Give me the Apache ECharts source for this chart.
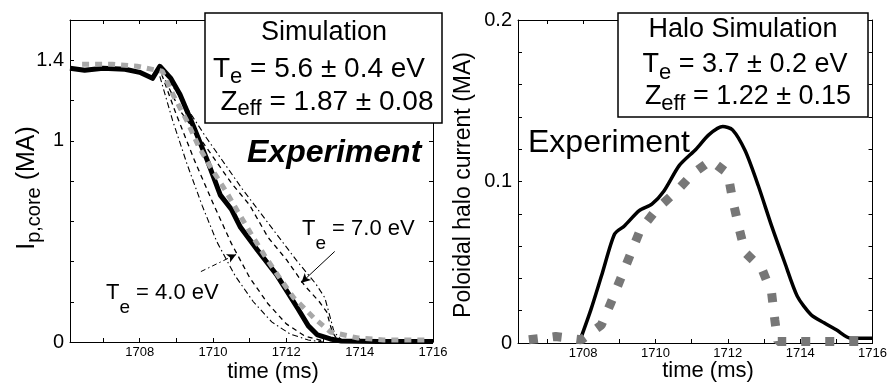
<!DOCTYPE html>
<html>
<head>
<meta charset="utf-8">
<script src="https://cdn.jsdelivr.net/npm/echarts@6/dist/echarts.min.js"></script>
<style>
  html, body { margin: 0; padding: 0; background: #fff; }
  #chart { width: 890px; height: 383px; }
</style>
</head>
<body>
<div id="chart"></div>
<script>
;(function () {
  // core current panel (left), time in ms, current in MA
  const coreExperiment = [
    [1706.1, 1.36], [1706.5, 1.35], [1707.0, 1.36], [1707.6, 1.355], [1708.0, 1.34],
    [1708.35, 1.31], [1708.55, 1.37], [1708.85, 1.31], [1709.1, 1.23], [1709.45, 1.08],
    [1709.85, 0.9], [1710.2, 0.73], [1710.5, 0.66], [1710.75, 0.57], [1711.2, 0.46],
    [1711.75, 0.33], [1712.3, 0.17], [1712.6, 0.08], [1712.85, 0.035], [1713.2, 0.015],
    [1713.5, 0.005], [1714.5, 0.003], [1716, 0.003],
  ]
  const coreSimulation = [
    [1706.43, 1.38], [1707.25, 1.38], [1707.93, 1.37], [1708.62, 1.345], [1708.92, 1.225],
    [1709.3, 1.095], [1709.6, 0.975], [1709.93, 0.87], [1710.35, 0.75], [1710.67, 0.65],
    [1711.08, 0.525], [1711.44, 0.42], [1711.85, 0.31], [1712.2, 0.22], [1712.75, 0.12],
    [1713.2, 0.05], [1713.95, 0.02], [1714.65, 0.01], [1715.85, 0.01],
  ]
  const coreTe4Dashed = [
    [1708.6, 1.33], [1709.0, 1.13], [1709.5, 0.9], [1710.0, 0.69], [1710.5, 0.49],
    [1711.0, 0.32], [1711.5, 0.19], [1712.0, 0.09], [1712.5, 0.03], [1713.0, 0.005],
  ]
  const coreTe4DashDot = [
    [1708.55, 1.32], [1708.9, 1.1], [1709.3, 0.88], [1709.7, 0.68], [1710.1, 0.5],
    [1710.6, 0.33], [1711.1, 0.2], [1711.6, 0.1], [1712.1, 0.04], [1712.6, 0.01], [1713.0, 0],
  ]
  const coreTe7Dashed = [
    [1708.7, 1.3], [1709.1, 1.15], [1709.5, 1.05], [1710.0, 0.92], [1710.5, 0.79],
    [1711.0, 0.68], [1711.5, 0.52], [1712.0, 0.41], [1712.5, 0.28], [1712.9, 0.2],
    [1713.1, 0.15], [1713.25, 0.05], [1713.4, 0.01], [1714.0, 0],
  ]
  const coreTe7DashDot = [
    [1708.8, 1.3], [1709.3, 1.16], [1709.8, 1.02], [1710.3, 0.89], [1710.8, 0.76],
    [1711.3, 0.64], [1711.8, 0.52], [1712.3, 0.4], [1712.8, 0.29], [1713.05, 0.22],
    [1713.2, 0.12], [1713.3, 0.05], [1713.5, 0.01], [1714.2, 0],
  ]
  const arrowTe7 = [[1713.32, 0.45], [1712.41, 0.295]]
  const arrowTe4 = [[1709.67, 0.35], [1710.63, 0.435]]

  // halo current panel (right)
  const haloExperiment = [
    [1707.92, 0.002], [1708.22, 0.021], [1708.54, 0.044], [1708.87, 0.0675], [1709.14, 0.0725],
    [1709.55, 0.082], [1709.9, 0.086], [1710.23, 0.094], [1710.66, 0.11], [1711.12, 0.12],
    [1711.48, 0.129], [1711.86, 0.134], [1712.13, 0.132], [1712.48, 0.119], [1712.84, 0.0975],
    [1713.21, 0.0725], [1713.57, 0.05], [1713.92, 0.029], [1714.3, 0.0175], [1714.66, 0.0125],
    [1715.01, 0.008], [1715.39, 0.003], [1716.0, 0.003],
  ]
  const haloSimulation = [
    [1706.5, 0.002], [1707.24, 0.004], [1707.95, 0.002], [1708.5, 0.011], [1708.77, 0.025],
    [1709.04, 0.04], [1709.31, 0.055], [1709.58, 0.07], [1710.04, 0.083], [1710.58, 0.094],
    [1711.04, 0.105], [1711.53, 0.113], [1712.0, 0.105], [1712.13, 0.089], [1712.3, 0.072],
    [1712.48, 0.056], [1712.94, 0.046], [1713.21, 0.031], [1713.3, 0.014], [1713.38, 0.001],
    [1714.1, 0.001], [1714.85, 0.001], [1715.9, 0.001],
  ]

  const timeTicks = [1707, 1708, 1709, 1710, 1711, 1712, 1713, 1714, 1715, 1716]
  const timeLabels = [1708, 1710, 1712, 1714, 1716]
  const coreLabels = [0, 1, 1.4]
  const haloLabels = [0, 0.1, 0.2]

  const FONT = 'Liberation Sans, Arial, Helvetica, sans-serif'
  const black = '#000'

  function xAxes(gridIndex, min) {
    const base = {
      gridIndex,
      type: 'value',
      min,
      max: 1716,
      axisLine: { onZero: false, lineStyle: { color: black, width: 1 } },
      axisTick: { inside: true, length: 4, customValues: timeTicks, lineStyle: { color: black } },
      splitLine: { show: false },
    }
    return [
      {
        ...base,
        position: 'bottom',
        axisLabel: {
          customValues: timeLabels,
          fontSize: 13,
          color: black,
          fontFamily: FONT,
          margin: 4,
          formatter: (v) => String(Math.round(v)),
        },
      },
      { ...base, position: 'top', axisLabel: { show: false } },
    ]
  }

  function yAxes(gridIndex, max, interval, labels, digits) {
    const base = {
      gridIndex,
      type: 'value',
      min: 0,
      max,
      interval,
      axisLine: { onZero: false, lineStyle: { color: black, width: 1 } },
      axisTick: { inside: true, length: 4, lineStyle: { color: black } },
      splitLine: { show: false },
    }
    const f = Math.pow(10, digits)
    return [
      {
        ...base,
        position: 'left',
        axisLabel: {
          fontSize: 20,
          color: black,
          fontFamily: FONT,
          margin: 6,
          formatter: (v) => {
            const r = Math.round(v * f) / f
            return labels.includes(r) ? String(r) : ''
          },
        },
      },
      { ...base, position: 'right', axisLabel: { show: false } },
    ]
  }

  function line(data, xi, yi, style, z) {
    return {
      type: 'line',
      xAxisIndex: xi,
      yAxisIndex: yi,
      data,
      showSymbol: false,
      symbol: 'none',
      lineStyle: style,
      z: z || 2,
      silent: true,
    }
  }

  function arrow(pts, type) {
    return {
      type: 'line',
      xAxisIndex: 0,
      yAxisIndex: 0,
      data: [],
      markLine: {
        silent: true,
        animation: false,
        symbol: ['none', 'arrow'],
        symbolSize: [7, 9],
        label: { show: false },
        lineStyle: { color: black, width: 1, type },
        data: [[{ coord: pts[0] }, { coord: pts[1] }]],
      },
    }
  }

  const sub = (size, shift) => ({ fontSize: size, fontFamily: FONT, fill: black, padding: [shift * 2, 0, 0, 0] })
  const main = (size) => ({ fontSize: size, fontFamily: FONT, fill: black })

  // rich text label, centred unless told otherwise
  function rich(x, y, str, styles, extra) {
    const el = {
      type: 'text',
      x,
      y,
      z: 110,
      style: { text: str, rich: styles, align: 'center', verticalAlign: 'middle', fill: black, fontFamily: FONT },
    }
    if (extra) {
      if (extra.align) el.style.align = extra.align
      if (extra.rotation) el.rotation = extra.rotation
    }
    return el
  }

  function plain(x, y, str, size, extra) {
    return {
      type: 'text',
      x,
      y,
      z: 110,
      rotation: (extra && extra.rotation) || 0,
      style: Object.assign(
        { text: str, align: 'center', verticalAlign: 'middle', fontSize: size, fontFamily: FONT, fill: black },
        (extra && extra.style) || {}
      ),
    }
  }

  const chart = echarts.init(document.getElementById('chart'), null, { renderer: 'canvas' })

  chart.setOption({
    animation: false,
    backgroundColor: '#fff',
    grid: [
      { left: 70, top: 20, width: 363, height: 322 },
      { left: 518, top: 20, width: 362, height: 323 },
    ],
    xAxis: [...xAxes(0, 1706.1), ...xAxes(1, 1706.2)],
    yAxis: [...yAxes(0, 1.6, 0.2, coreLabels, 1), ...yAxes(1, 0.2, 0.02, haloLabels, 2)],
    series: [
      line(coreTe4DashDot, 0, 0, { color: black, width: 1.1, type: [6, 3, 1.5, 3] }),
      line(coreTe4Dashed, 0, 0, { color: black, width: 1.3, type: [5, 4] }),
      line(coreTe7Dashed, 0, 0, { color: black, width: 1.3, type: [5, 4] }),
      line(coreTe7DashDot, 0, 0, { color: black, width: 1.1, type: [6, 3, 1.5, 3] }),
      line(coreExperiment, 0, 0, { color: black, width: 5, join: 'round' }, 3),
      line(coreSimulation, 0, 0, { color: '#a8a8a8', width: 5, type: [7, 6], cap: 'butt' }, 4),
      arrow(arrowTe7, 'solid'),
      arrow(arrowTe4, [5, 3, 1.5, 3]),
      {
        ...line(haloExperiment, 2, 2, { color: black, width: 3.5, join: 'round' }, 3),
        smooth: 0.25,
      },
      line(haloSimulation, 2, 2, { color: '#777', width: 9, type: [9, 15], cap: 'butt' }, 4),
    ],
    graphic: [
      // left legend box
      {
        type: 'rect',
        z: 100,
        shape: { x: 205, y: 13, width: 237, height: 110 },
        style: { fill: '#fff', stroke: black, lineWidth: 1.5 },
      },
      plain(324, 33, 'Simulation', 27),
      rich(319, 69, '{a|T}{s|e}{a| = 5.6 ± 0.4 eV}', { a: main(28), s: sub(22, 8) }),
      rich(327, 102, '{a|Z}{s|eff}{a| = 1.87 ± 0.08}', { a: main(28), s: sub(22, 7) }),
      // right legend box
      {
        type: 'rect',
        z: 100,
        shape: { x: 618, y: 13, width: 250, height: 104 },
        style: { fill: '#fff', stroke: black, lineWidth: 1.5 },
      },
      plain(743, 30, 'Halo Simulation', 27),
      rich(745, 65, '{a|T}{s|e}{a| = 3.7 ± 0.2 eV}', { a: main(27), s: sub(22, 8) }),
      rich(748, 97, '{a|Z}{s|eff}{a| = 1.22 ± 0.15}', { a: main(27), s: sub(22, 7) }),
      // experiment labels
      plain(247, 153, 'Experiment', 32, { style: { align: 'left', fontWeight: 'bold', fontStyle: 'italic' } }),
      plain(528, 143, 'Experiment', 32, { style: { align: 'left' } }),
      // temperature annotations
      rich(302, 229, '{a|T}{s|e}{a| = 7.0 eV}', { a: main(22), s: sub(19, 15) }, { align: 'left' }),
      rich(106, 293, '{a|T}{s|e}{a| = 4.0 eV}', { a: main(22), s: sub(19, 15) }, { align: 'left' }),
      // axis titles
      plain(273, 372, 'time (ms)', 22),
      plain(708, 371, 'time (ms)', 22),
      rich(27, 188, '{a|I}{s|p,core}{a| (MA)}', { a: main(25), s: sub(20, 7) }, { rotation: Math.PI / 2 }),
      plain(464, 185, 'Poloidal halo current (MA)', 23, { rotation: Math.PI / 2 }),
    ],
  })
})()
</script>
</body>
</html>
